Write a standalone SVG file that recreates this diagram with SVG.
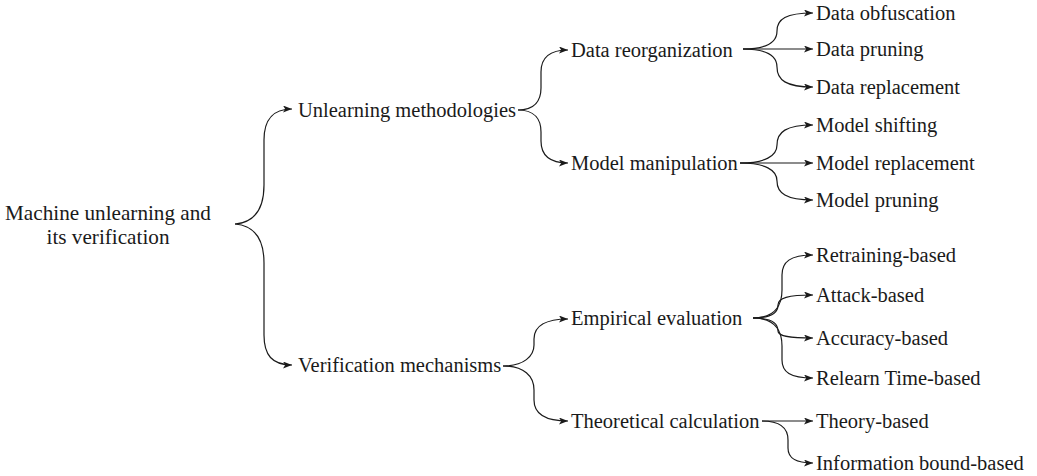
<svg xmlns="http://www.w3.org/2000/svg" width="1037" height="476" viewBox="0 0 1037 476">
<style>
text{font-family:"Liberation Serif","Times New Roman",serif;font-size:20.5px;fill:#1a1a1a}
.root{font-size:21.2px;text-anchor:middle}
.c{fill:none;stroke:#1a1a1a;stroke-width:1.2}
.a{marker-end:url(#ah)}
</style>
<defs>
<marker id="ah" markerUnits="userSpaceOnUse" markerWidth="10" markerHeight="8" refX="9" refY="3.5" orient="auto">
<path d="M0,0 L9,3.5 L0,7 L2.2,3.5 Z" fill="#1a1a1a"/>
</marker>
</defs>
<g id="connectors">
<path class="c a" d="M235,224 C258,222 264,205 264,185 L264,140 C264,120 272,109 292,109"/>
<path class="c a" d="M235,224 C258,226 264,243 264,263 L264,335 C264,355 272,365 292,365"/>
<path class="c a" d="M518,110 C535,110 541,100 541,88 L541,72 C541,58 550,50 568,50"/>
<path class="c a" d="M518,110 C535,110 541,120 541,132 L541,141 C541,155 550,163 568,163"/>
<path class="c a" d="M503,366 C524,366 534,356 534,345 L534,339 C534,326 546,319 568,319"/>
<path class="c a" d="M503,366 C524,366 534,376 534,390 L534,400 C534,414 546,421 568,421"/>
<path class="c a" d="M743,49 C768,49 777,42 777,31 C777,19 786,13 813,13"/>
<path class="c a" d="M743,49 L813,49"/>
<path class="c a" d="M743,49 C768,49 777,56 777,67 C777,80 786,87 813,87"/>
<path class="c a" d="M740,163 C765,163 777,156 777,145 C777,132 786,125 813,125"/>
<path class="c a" d="M740,163 L813,163"/>
<path class="c a" d="M740,163 C765,163 777,170 777,181 C777,193 786,200 813,200"/>
<path class="c a" d="M753,318 C775,318 782,305 782,290 L782,275 C782,262 790,255 813,255"/>
<path class="c a" d="M753,318 C772,318 778,312 778,305 C778,298 788,295 813,295"/>
<path class="c a" d="M753,318 C772,318 778,324 778,331 C778,336 788,338 813,338"/>
<path class="c a" d="M753,318 C775,318 782,331 782,346 L782,360 C782,372 790,378 813,378"/>
<path class="c a" d="M762,421 L813,421"/>
<path class="c a" d="M762,421 C780,421 788,428 788,440 L788,448 C788,458 795,463 813,463"/>
</g>
<g id="root"><text class="root" x="108" y="220">Machine unlearning and</text><text class="root" x="108" y="244">its verification</text></g>
<g id="unlearning-methodologies"><text x="298" y="117">Unlearning methodologies</text></g>
<g id="verification-mechanisms"><text x="298" y="372">Verification mechanisms</text></g>
<g id="data-reorganization"><text x="571" y="57">Data reorganization</text></g>
<g id="model-manipulation"><text x="571" y="170">Model manipulation</text></g>
<g id="empirical-evaluation"><text x="571" y="325">Empirical evaluation</text></g>
<g id="theoretical-calculation"><text x="571" y="428">Theoretical calculation</text></g>
<g id="data-obfuscation"><text x="816" y="20">Data obfuscation</text></g>
<g id="data-pruning"><text x="816" y="56">Data pruning</text></g>
<g id="data-replacement"><text x="816" y="94">Data replacement</text></g>
<g id="model-shifting"><text x="816" y="132">Model shifting</text></g>
<g id="model-replacement"><text x="816" y="170">Model replacement</text></g>
<g id="model-pruning"><text x="816" y="207">Model pruning</text></g>
<g id="retraining-based"><text x="816" y="262">Retraining-based</text></g>
<g id="attack-based"><text x="816" y="302">Attack-based</text></g>
<g id="accuracy-based"><text x="816" y="345">Accuracy-based</text></g>
<g id="relearn-time-based"><text x="816" y="385">Relearn Time-based</text></g>
<g id="theory-based"><text x="816" y="428">Theory-based</text></g>
<g id="information-bound-based"><text x="816" y="470">Information bound-based</text></g>
</svg>
